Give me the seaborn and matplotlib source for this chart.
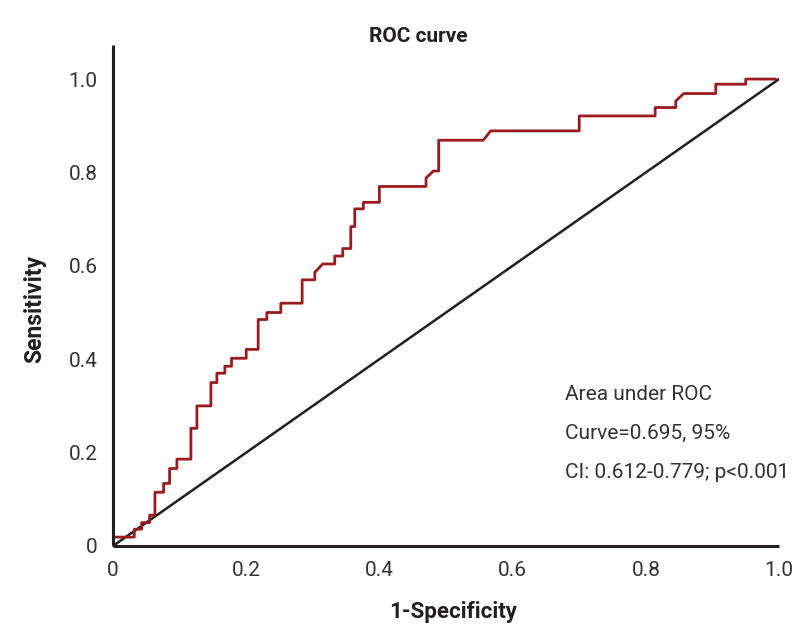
import matplotlib
matplotlib.use("Agg")
import matplotlib.pyplot as plt
import seaborn as sns
import pandas as pd

# ROC step curve vertices (1-specificity, sensitivity)
fpr = [0, 0, 0.032, 0.032, 0.043, 0.043, 0.055, 0.055, 0.063, 0.063,
       0.076, 0.076, 0.085, 0.085, 0.096, 0.096, 0.117, 0.117, 0.126, 0.126,
       0.147, 0.147, 0.156, 0.156, 0.168, 0.168, 0.178, 0.178, 0.200, 0.200,
       0.218, 0.218, 0.231, 0.231, 0.252, 0.252, 0.284, 0.284, 0.303, 0.303,
       0.315, 0.333, 0.333, 0.345, 0.345, 0.357, 0.357, 0.363, 0.363, 0.376,
       0.376, 0.400, 0.400, 0.470, 0.470, 0.481, 0.489, 0.489, 0.556, 0.567,
       0.700, 0.700, 0.814, 0.814, 0.845, 0.845, 0.857, 0.905, 0.905, 0.950,
       0.950, 0.995]
tpr = [0, 0.019, 0.019, 0.036, 0.036, 0.050, 0.050, 0.066, 0.066, 0.115,
       0.115, 0.134, 0.134, 0.166, 0.166, 0.186, 0.186, 0.252, 0.252, 0.300,
       0.300, 0.350, 0.350, 0.370, 0.370, 0.385, 0.385, 0.402, 0.402, 0.421,
       0.421, 0.485, 0.485, 0.500, 0.500, 0.520, 0.520, 0.570, 0.570, 0.586,
       0.604, 0.604, 0.621, 0.621, 0.637, 0.637, 0.684, 0.684, 0.722, 0.722,
       0.736, 0.736, 0.770, 0.770, 0.788, 0.803, 0.803, 0.869, 0.869, 0.889,
       0.889, 0.921, 0.921, 0.939, 0.939, 0.953, 0.969, 0.969, 0.989, 0.989,
       1.000, 1.000]
ref_x = [0, 1]
ref_y = [0, 1]

ticks = [0, 0.2, 0.4, 0.6, 0.8, 1.0]
tick_labels = ['0', '0.2', '0.4', '0.6', '0.8', '1.0']
note = ['Area under ROC', 'Curve=0.695, 95%', 'CI: 0.612-0.779; p<0.001']

roc = pd.DataFrame({'fpr': fpr, 'tpr': tpr})
ref = pd.DataFrame({'x': ref_x, 'y': ref_y})

sns.set_style('white')
plt.rcParams['font.family'] = ['Roboto', 'DejaVu Sans']
ink = '#231f20'
red = '#9b1c20'

fig = plt.figure(figsize=(7.99, 6.37), dpi=100)
ax = fig.add_axes([0.1414, 0.1429, 0.8336, 0.7865])

sns.lineplot(data=ref, x='x', y='y', ax=ax, color=ink, lw=1.8,
             sort=False, estimator=None)
sns.lineplot(data=roc, x='fpr', y='tpr', ax=ax, color=red, lw=2.0,
             sort=False, estimator=None)

ax.set_xlim(0, 1.0)
ax.set_ylim(0, 1.073)
ax.set_xticks(ticks)
ax.set_xticklabels(tick_labels)
ax.set_yticks(ticks)
ax.set_yticklabels(tick_labels)
ax.tick_params(axis='both', labelsize=15, labelcolor='#333333', colors=ink,
               width=2, direction='out')
ax.tick_params(axis='x', length=7, pad=4)
ax.tick_params(axis='y', length=8, pad=3)

sns.despine(ax=ax)
for s in ['left', 'bottom']:
    ax.spines[s].set_linewidth(2.2)
    ax.spines[s].set_color(ink)
    ax.spines[s].set_capstyle('butt')

ax.set_xlabel('')
ax.set_ylabel('')
fig.text(453 / 799, 1 - 612 / 637, '1-Specificity', ha='center', va='center',
         fontsize=16, fontweight='bold', color=ink)
fig.text(35 / 799, 1 - 309 / 637, 'Sensitivity', ha='center', va='center',
         rotation=90, fontsize=16.5, fontweight='bold', color=ink)
fig.text(418 / 799, 1 - 37 / 637, 'ROC curve', ha='center', va='center',
         fontsize=15, fontweight='bold', color=ink)

for i, line in enumerate(note):
    fig.text(565 / 799, 1 - (395 + 38.5 * i) / 637, line, ha='left', va='center',
             fontsize=15, color='#333333')

fig.savefig('out.png', dpi=100)
